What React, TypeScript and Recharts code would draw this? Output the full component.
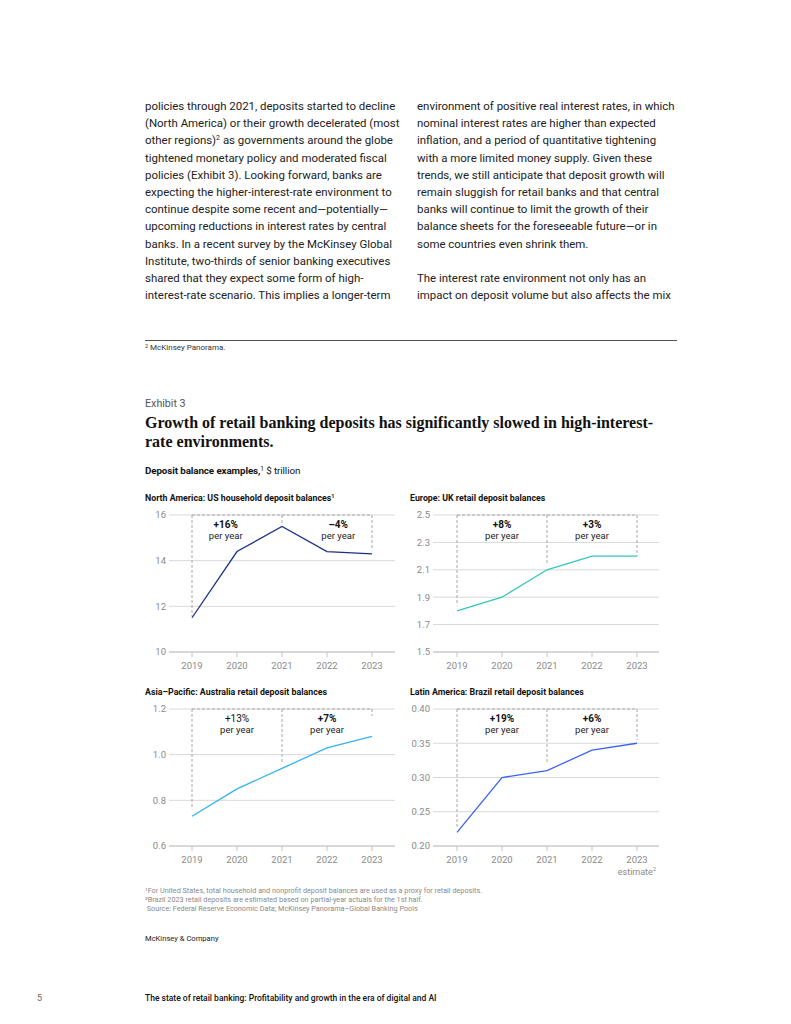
import React from 'react';
import { LineChart, Line, XAxis, YAxis, CartesianGrid, ReferenceLine, ReferenceDot } from 'recharts';

// ---------- data ----------
const years = [2019, 2020, 2021, 2022, 2023];

const naValues = [11.5, 14.4, 15.5, 14.4, 14.3];
const ukValues = [1.8, 1.9, 2.1, 2.2, 2.2];
const auValues = [0.73, 0.85, 0.94, 1.03, 1.08];
const brValues = [0.22, 0.3, 0.31, 0.34, 0.35];

const naTicks = [10, 12, 14, 16];
const ukTicks = [1.5, 1.7, 1.9, 2.1, 2.3, 2.5];
const auTicks = [0.6, 0.8, 1.0, 1.2];
const brTicks = [0.2, 0.25, 0.3, 0.35, 0.4];

const naGrowth = [
  { text: '+16%', bold: true, at: 2019.75 },
  { text: '\u20134%', bold: true, at: 2022.25 },
];
const ukGrowth = [
  { text: '+8%', bold: true, at: 2020 },
  { text: '+3%', bold: true, at: 2022 },
];
const auGrowth = [
  { text: '+13%', bold: false, at: 2020 },
  { text: '+7%', bold: true, at: 2022 },
];
const brGrowth = [
  { text: '+19%', bold: true, at: 2020 },
  { text: '+6%', bold: true, at: 2022 },
];

// lower ends of the dashed bracket verticals (2019, 2021, 2023)
const naDrops = [11.55, 15.65, 14.45];
const ukDrops = [1.84, 2.15, 2.2];
const auDrops = [0.76, 0.96, 1.17];
const brDrops = [0.228, 0.322, 0.355];

const leftColumn = [
  'policies through 2021, deposits started to decline',
  '(North America) or their growth decelerated (most',
  'other regions)\u00b2 as governments around the globe',
  'tightened monetary policy and moderated fiscal',
  'policies (Exhibit 3). Looking forward, banks are',
  'expecting the higher-interest-rate environment to',
  'continue despite some recent and\u2014potentially\u2014',
  'upcoming reductions in interest rates by central',
  'banks. In a recent survey by the McKinsey Global',
  'Institute, two-thirds of senior banking executives',
  'shared that they expect some form of high-',
  'interest-rate scenario. This implies a longer-term',
];
const rightColumn = [
  'environment of positive real interest rates, in which',
  'nominal interest rates are higher than expected',
  'inflation, and a period of quantitative tightening',
  'with a more limited money supply. Given these',
  'trends, we still anticipate that deposit growth will',
  'remain sluggish for retail banks and that central',
  'banks will continue to limit the growth of their',
  'balance sheets for the foreseeable future\u2014or in',
  'some countries even shrink them.',
  '',
  'The interest rate environment not only has an',
  'impact on deposit volume but also affects the mix',
];

const sourceNotes = [
  '\u00b9For United States, total household and nonprofit deposit balances are used as a proxy for retail deposits.',
  '\u00b2Brazil 2023 retail deposits are estimated based on partial-year actuals for the 1st half.',
  ' Source: Federal Reserve Economic Data; McKinsey Panorama\u2013Global Banking Pools',
];

const SANS = 'Roboto, "Liberation Sans", Arial, sans-serif';
const SERIF = '"Liberation Serif", "DejaVu Serif", serif';

// ---------- helpers ----------
function Txt({ x, y, size, weight = 400, color = '#222', family = SANS, children, spacing = 0 }: any) {
  return (
    <div
      style={{
        position: 'absolute',
        left: x,
        top: y,
        transform: 'translateY(-50%)',
        fontSize: size,
        lineHeight: 1,
        fontWeight: weight,
        color,
        fontFamily: family,
        whiteSpace: 'pre',
        letterSpacing: spacing,
      }}
    >
      {children}
    </div>
  );
}

function renderBodyLine(s: string) {
  const idx = s.indexOf('\u00b2');
  if (idx < 0) return s;
  return (
    <>
      {s.slice(0, idx)}
      <span style={{ fontSize: 7, position: 'relative', top: -4 }}>2</span>
      {s.slice(idx + 1)}
    </>
  );
}

type PanelProps = {
  values: number[];
  ticks: number[];
  decimals: number;
  color: string;
  growth: { text: string; bold: boolean; at: number }[];
  drops: number[];
  left: number;
  top: number;
  mLeft: number;
  mRight: number;
  padL: number;
  padR: number;
  estimate?: boolean;
};

function Panel({ values, ticks, decimals, color, growth, drops, left, top, mLeft, mRight, padL, padR, estimate }: PanelProps) {
  const data = years.map((y, i) => ({ year: y, v: values[i] }));
  const yMin = ticks[0];
  const yTop = ticks[ticks.length - 1];
  const W = 275;
  const H = 190;
  const dash = { stroke: '#a8a8a8', strokeDasharray: '3 2', strokeWidth: 1, ifOverflow: 'visible' as const };

  const yTick = (p: any) => (
    <text x={p.x - 3} y={p.y} dy="0.35em" textAnchor="end" fill="#8a8a8a" fontSize={9.5} fontFamily={SANS}>
      {Number(p.payload.value).toFixed(decimals)}
    </text>
  );
  const xTick = (p: any) => (
    <g>
      <text x={p.x} y={p.y} dy="0.71em" textAnchor="middle" fill="#8a8a8a" fontSize={9.5} fontFamily={SANS}>
        {p.payload.value}
      </text>
      {estimate && p.payload.value === 2023 && (
        <text x={p.x} y={p.y + 12.5} dy="0.71em" textAnchor="middle" fill="#8a8a8a" fontSize={9} fontFamily={SANS}>
          estimate
          <tspan dy={-3.5} fontSize={6}>2</tspan>
        </text>
      )}
    </g>
  );

  return (
    <div style={{ position: 'absolute', left, top, width: W, height: H }}>
      <LineChart width={W} height={H} data={data} margin={{ top: 10, right: mRight, bottom: 23, left: mLeft }}>
        <CartesianGrid vertical={false} stroke="#d9d9d9" />
        <XAxis
          dataKey="year"
          type="number"
          domain={[2019, 2023]}
          ticks={years}
          interval={0}
          padding={{ left: padL, right: padR }}
          axisLine={{ stroke: '#c4c4c4' }}
          tickLine={{ stroke: '#c4c4c4' }}
          tickSize={5}
          tickMargin={5}
          height={20}
          tick={xTick}
        />
        <YAxis
          domain={[yMin, yTop]}
          ticks={ticks}
          interval={0}
          width={30}
          axisLine={false}
          tickLine={false}
          tickSize={0}
          tickMargin={0}
          tick={yTick}
        />
        <ReferenceLine segment={[{ x: 2019, y: yTop }, { x: 2023, y: yTop }]} {...dash} />
        <ReferenceLine segment={[{ x: 2019, y: yTop }, { x: 2019, y: drops[0] }]} {...dash} />
        <ReferenceLine segment={[{ x: 2021, y: yTop }, { x: 2021, y: drops[1] }]} {...dash} />
        <ReferenceLine segment={[{ x: 2023, y: yTop }, { x: 2023, y: drops[2] }]} {...dash} />
        {growth.map((g, i) => (
          <ReferenceDot
            key={i}
            x={g.at}
            y={yTop}
            r={0}
            ifOverflow="visible"
            shape={(p: any) => (
              <g>
                <text x={p.cx} y={p.cy + 9} dy="0.35em" textAnchor="middle" fontSize={10} fontWeight={g.bold ? 700 : 400} fill="#111" fontFamily={SANS}>
                  {g.text}
                </text>
                <text x={p.cx} y={p.cy + 21} dy="0.35em" textAnchor="middle" fontSize={9.5} fill="#222" fontFamily={SANS}>
                  per year
                </text>
              </g>
            )}
          />
        ))}
        <Line type="linear" dataKey="v" stroke={color} strokeWidth={1.3} dot={false} isAnimationActive={false} />
      </LineChart>
    </div>
  );
}

export default function App() {
  return (
    <div style={{ position: 'absolute', left: 0, top: 0, width: 791, height: 1024, background: '#fff', fontFamily: SANS, overflow: 'hidden' }}>
      {leftColumn.map((s, i) => (
        <Txt key={'l' + i} x={145} y={107 + i * 17.2} size={11.45} color="#222">
          {renderBodyLine(s)}
        </Txt>
      ))}
      {rightColumn.map((s, i) => (
        <Txt key={'r' + i} x={417} y={107 + i * 17.2} size={11.45} color="#222">
          {s}
        </Txt>
      ))}

      <div style={{ position: 'absolute', left: 145, top: 340, width: 532, height: 1, background: '#555' }} />
      <Txt x={145} y={348} size={8} color="#333">
        <span style={{ fontSize: 5.5, position: 'relative', top: -2.5 }}>2</span> McKinsey Panorama.
      </Txt>

      <Txt x={145} y={404} size={10.7} color="#555">Exhibit 3</Txt>
      <Txt x={145} y={423} size={16} weight={700} color="#111" family={SERIF}>
        Growth of retail banking deposits has significantly slowed in high-interest-
      </Txt>
      <Txt x={145} y={442} size={16} weight={700} color="#111" family={SERIF}>
        rate environments.
      </Txt>
      <Txt x={145} y={471} size={9.8} color="#111" spacing={-0.1}>
        <span style={{ fontWeight: 700 }}>Deposit balance examples,</span>
        <span style={{ fontSize: 6.5, position: 'relative', top: -3.5 }}>1</span> $ trillion
      </Txt>

      <Txt x={145} y={498} size={8.8} weight={700} color="#111">
        North America: US household deposit balances<span style={{ fontSize: 5.5, position: 'relative', top: -3 }}>1</span>
      </Txt>
      <Txt x={410} y={498} size={8.8} weight={700} color="#111">Europe: UK retail deposit balances</Txt>
      <Txt x={145} y={692} size={8.8} weight={700} color="#111">Asia{'\u2013'}Pacific: Australia retail deposit balances</Txt>
      <Txt x={410} y={692} size={8.8} weight={700} color="#111">Latin America: Brazil retail deposit balances</Txt>

      <Panel values={naValues} ticks={naTicks} decimals={0} color="#1c2f8c" growth={naGrowth} drops={naDrops}
        left={130} top={505} mLeft={9} mRight={10} padL={23} padR={23} />
      <Panel values={ukValues} ticks={ukTicks} decimals={1} color="#35c7bd" growth={ukGrowth} drops={ukDrops}
        left={400} top={505} mLeft={3} mRight={16} padL={24} padR={22} />
      <Panel values={auValues} ticks={auTicks} decimals={1} color="#36b3f2" growth={auGrowth} drops={auDrops}
        left={130} top={699} mLeft={9} mRight={10} padL={23} padR={23} />
      <Panel values={brValues} ticks={brTicks} decimals={2} color="#3a63f5" growth={brGrowth} drops={brDrops}
        left={400} top={699} mLeft={3} mRight={16} padL={24} padR={22} estimate />

      {sourceNotes.map((s, i) => (
        <Txt key={'n' + i} x={145} y={891 + i * 9} size={7.25} color="#8a8a8a">{s}</Txt>
      ))}
      <Txt x={145} y={939} size={7.6} color="#222">McKinsey &amp; Company</Txt>

      <Txt x={37} y={998} size={9} color="#666">5</Txt>
      <Txt x={145} y={998} size={8.5} weight={500} color="#111">
        The state of retail banking: Profitability and growth in the era of digital and AI
      </Txt>
    </div>
  );
}
